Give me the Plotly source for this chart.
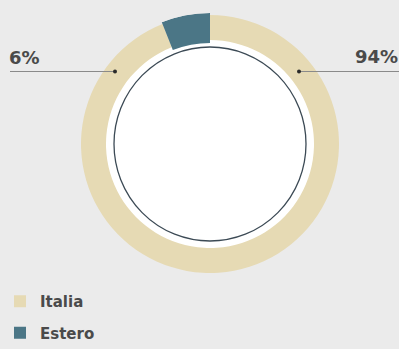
import plotly.graph_objects as go

# ---- data ----
categories = ["Italia", "Estero"]
values = [94, 6]
colors = ["#e6dab4", "#4b7686"]

W, H = 399, 349
BG = "#ebebeb"
TXT = "#4a4a4a"
FONT = "DejaVu Sans"

# geometry (pixels)
cx, cy = 210, 144
R = 131

def px(x):
    return x / W

def py(y):
    return 1 - y / H

total = sum(values)
# angular extents derived from data (clockwise from 12 o'clock)
starts, widths = [], []
acc = 0
for v in values:
    w = v / total * 360
    starts.append(acc)
    widths.append(w)
    acc += w

ring_base = [104, 101]
ring_len = [25, 30]

fig = go.Figure()
for i, cat in enumerate(categories):
    fig.add_trace(go.Barpolar(
        r=[ring_len[i]], base=[ring_base[i]],
        theta=[starts[i] + widths[i] / 2], width=[widths[i]],
        marker=dict(color=colors[i], line=dict(width=0)),
        name=cat, legendgroup=cat, hoverinfo="name",
    ))

shapes = [
    # white inner disk
    dict(type="circle", xref="paper", yref="paper", layer="below",
         x0=px(cx - 105), x1=px(cx + 105), y0=py(cy + 105), y1=py(cy - 105),
         fillcolor="white", line=dict(width=0)),
    # dark inner ring line
    dict(type="circle", xref="paper", yref="paper", layer="below",
         x0=px(cx - 96), x1=px(cx + 96), y0=py(cy + 97), y1=py(cy - 97),
         fillcolor="rgba(0,0,0,0)", line=dict(color="#3c4a55", width=1.3)),
    # leader lines
    dict(type="line", xref="paper", yref="paper",
         x0=px(10), x1=px(115), y0=py(71.5), y1=py(71.5),
         line=dict(color="#8a8a8a", width=1)),
    dict(type="line", xref="paper", yref="paper",
         x0=px(299), x1=px(399), y0=py(71.5), y1=py(71.5),
         line=dict(color="#8a8a8a", width=1)),
    dict(type="circle", xref="paper", yref="paper",
         x0=px(113), x1=px(117), y0=py(73.5), y1=py(69.5),
         fillcolor="#2a2a2a", line=dict(width=0)),
    dict(type="circle", xref="paper", yref="paper",
         x0=px(297), x1=px(301), y0=py(73.5), y1=py(69.5),
         fillcolor="#2a2a2a", line=dict(width=0)),
]

pct = [f"{round(v / total * 100)}%" for v in values]
annotations = [
    dict(text=f"<b>{pct[1]}</b>", xref="paper", yref="paper",
         x=px(7), y=py(57), xanchor="left", yanchor="middle",
         showarrow=False, font=dict(size=18, color=TXT, family=FONT)),
    dict(text=f"<b>{pct[0]}</b>", xref="paper", yref="paper",
         x=px(400), y=py(56), xanchor="right", yanchor="middle",
         showarrow=False, font=dict(size=18, color=TXT, family=FONT)),
]

fig.update_layout(
    width=W, height=H,
    margin=dict(l=0, r=0, t=0, b=0),
    paper_bgcolor=BG, plot_bgcolor=BG,
    polar=dict(
        domain=dict(x=[px(cx - R), px(cx + R)], y=[py(cy + R), py(cy - R)]),
        bgcolor="rgba(0,0,0,0)",
        radialaxis=dict(range=[0, R], visible=False),
        angularaxis=dict(visible=False, rotation=90, direction="clockwise"),
    ),
    shapes=shapes,
    annotations=annotations,
    showlegend=True,
    legend=dict(
        x=0, y=0, xanchor="left", yanchor="bottom",
        bgcolor="rgba(0,0,0,0)", tracegroupgap=9,
        font=dict(size=15, color=TXT, family=FONT, weight="bold"),
        itemwidth=30, traceorder="grouped",
    ),
)

fig.write_html(
    "out.html",
    config={"displayModeBar": False},
    post_script="document.body.style.margin='0';document.body.style.overflow='hidden';",
)
